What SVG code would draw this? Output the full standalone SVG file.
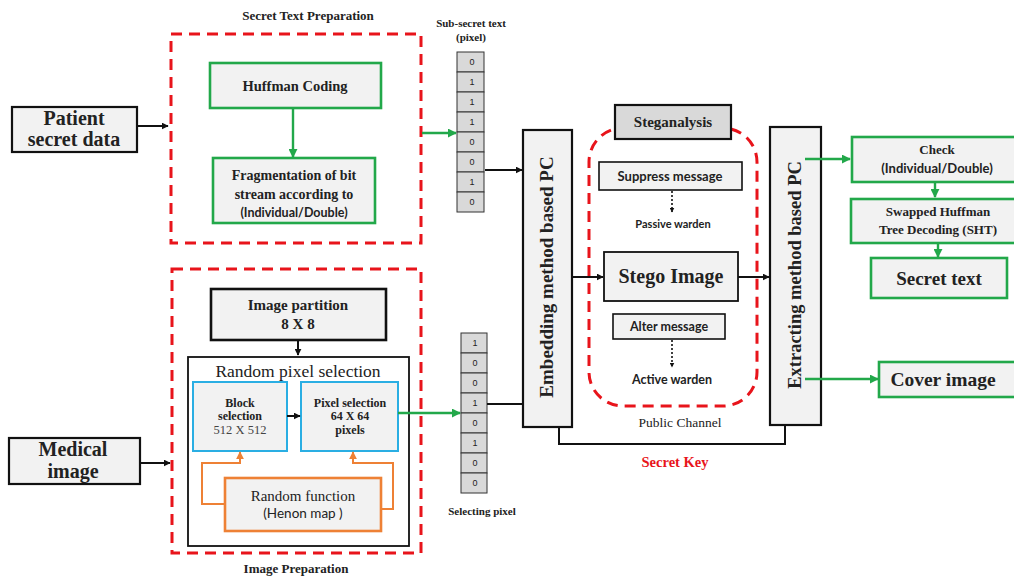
<svg xmlns="http://www.w3.org/2000/svg" width="1014" height="578" viewBox="0 0 1014 578">
  <style>
    .bx { fill: #f2f2f2; stroke: #111; stroke-width: 2.2; }
    .gbx { fill: #f2f2f2; stroke: #22a84a; stroke-width: 2.6; }
    .bbx { fill: #f2f2f2; stroke: #2aaee3; stroke-width: 2; }
    .obx { fill: #f2f2f2; stroke: #ee8135; stroke-width: 2.6; }
    .tbx { fill: #ffffff; stroke: #111; stroke-width: 1.8; }
    .cell { fill: #d9d9d9; stroke: #333; stroke-width: 1; }
    .dash { fill: none; stroke: #e8141b; stroke-width: 3; stroke-dasharray: 11 7; }
    .serb { font-family: "Liberation Serif", serif; font-weight: bold; fill: #222; text-anchor: middle; }
    .ser { font-family: "Liberation Serif", serif; fill: #222; text-anchor: middle; }
    .sanb { font-family: Lato, "Open Sans", sans-serif; font-weight: bold; fill: #222; text-anchor: middle; }
    .san { font-family: Lato, "Open Sans", sans-serif; fill: #222; text-anchor: middle; }
    .dig { font-family: "Liberation Sans", sans-serif; font-size: 9px; fill: #222; text-anchor: middle; }
    .red { fill: #e8141b; }
    .grey { fill: #444; }
    .bl { fill: none; stroke: #111; stroke-width: 2; }
    .gl { fill: none; stroke: #22a84a; stroke-width: 2.4; }
    .ol { fill: none; stroke: #ee8135; stroke-width: 2; }
    .dl { fill: none; stroke: #111; stroke-width: 1.6; stroke-dasharray: 2 2; }
  </style>
  <defs>
    <marker id="ab" viewBox="0 0 10 10" refX="9" refY="5" markerWidth="5" markerHeight="5" orient="auto" markerUnits="userSpaceOnUse">
      <path d="M0,0 L10,5 L0,10 z" fill="#111"/>
    </marker>
    <marker id="abk" viewBox="0 0 10 10" refX="9" refY="5" markerWidth="7" markerHeight="7" orient="auto" markerUnits="userSpaceOnUse">
      <path d="M0,0 L10,5 L0,10 z" fill="#111"/>
    </marker>
    <marker id="ag" viewBox="0 0 10 10" refX="9" refY="5" markerWidth="9" markerHeight="9" orient="auto" markerUnits="userSpaceOnUse">
      <path d="M0,0 L10,5 L0,10 z" fill="#22a84a"/>
    </marker>
    <marker id="ao" viewBox="0 0 10 10" refX="9" refY="5" markerWidth="8" markerHeight="8" orient="auto" markerUnits="userSpaceOnUse">
      <path d="M0,0 L10,5 L0,10 z" fill="#ee8135"/>
    </marker>
  </defs>

  <!-- group frames -->
  <g id="secret-text-preparation">
    <rect class="dash" x="171" y="34" width="250" height="209"/>
    <text class="serb" x="308" y="20" font-size="13">Secret Text Preparation</text>
  </g>
  <g id="image-preparation">
    <rect class="dash" x="172" y="269" width="249" height="284"/>
    <text class="serb" x="296" y="573" font-size="13">Image Preparation</text>
  </g>
  <g id="public-channel">
    <rect class="dash" x="589" y="128" width="168" height="278" rx="34" ry="34"/>
    <text class="ser" x="680" y="427" font-size="13.5">Public Channel</text>
  </g>

  <!-- inputs -->
  <g id="patient-secret-data">
    <rect class="bx" x="12" y="107" width="125" height="45"/>
    <text class="serb" x="74" y="125" font-size="20">Patient</text>
    <text class="serb" x="74" y="146" font-size="20">secret data</text>
  </g>
  <g id="medical-image">
    <rect class="bx" x="9" y="438" width="131" height="46"/>
    <text class="serb" x="73" y="456" font-size="20">Medical</text>
    <text class="serb" x="73" y="478" font-size="20">image</text>
  </g>

  <!-- secret text preparation -->
  <g id="huffman-coding">
    <rect class="gbx" x="210" y="63" width="171" height="45"/>
    <text class="serb" x="295" y="91" font-size="14.5">Huffman Coding</text>
  </g>
  <g id="fragmentation">
    <rect class="gbx" x="213" y="158" width="162" height="65"/>
    <text class="serb" x="294" y="180" font-size="14">Fragmentation of bit</text>
    <text class="serb" x="294" y="199" font-size="14">stream according to</text>
    <text class="sanb" x="294" y="217" font-size="12.5">(Individual/Double)</text>
  </g>

  <!-- bit columns -->
  <g id="sub-secret-text">
    <text class="serb" x="471" y="27" font-size="11">Sub-secret text</text>
    <text class="serb" x="471" y="41" font-size="11">(pixel)</text>
    <rect class="cell" x="457" y="52" width="27" height="20"/>
    <rect class="cell" x="457" y="72" width="27" height="20"/>
    <rect class="cell" x="457" y="92" width="27" height="20"/>
    <rect class="cell" x="457" y="112" width="27" height="20"/>
    <rect class="cell" x="457" y="132" width="27" height="20"/>
    <rect class="cell" x="457" y="152" width="27" height="20"/>
    <rect class="cell" x="457" y="172" width="27" height="20"/>
    <rect class="cell" x="457" y="192" width="27" height="20"/>
    <text class="dig" x="472" y="65">0</text>
    <text class="dig" x="472" y="85">1</text>
    <text class="dig" x="472" y="105">1</text>
    <text class="dig" x="472" y="125">1</text>
    <text class="dig" x="472" y="145">0</text>
    <text class="dig" x="472" y="165">0</text>
    <text class="dig" x="472" y="185">1</text>
    <text class="dig" x="472" y="205">0</text>
  </g>
  <g id="selecting-pixel">
    <rect class="cell" x="461" y="333" width="26" height="20"/>
    <rect class="cell" x="461" y="353" width="26" height="20"/>
    <rect class="cell" x="461" y="373" width="26" height="20"/>
    <rect class="cell" x="461" y="393" width="26" height="20"/>
    <rect class="cell" x="461" y="413" width="26" height="20"/>
    <rect class="cell" x="461" y="433" width="26" height="20"/>
    <rect class="cell" x="461" y="453" width="26" height="20"/>
    <rect class="cell" x="461" y="473" width="26" height="20"/>
    <text class="dig" x="475" y="346">1</text>
    <text class="dig" x="475" y="366">0</text>
    <text class="dig" x="475" y="386">0</text>
    <text class="dig" x="475" y="406">1</text>
    <text class="dig" x="475" y="426">0</text>
    <text class="dig" x="475" y="446">1</text>
    <text class="dig" x="475" y="466">0</text>
    <text class="dig" x="475" y="486">0</text>
    <text class="serb" x="482" y="515" font-size="11">Selecting pixel</text>
  </g>

  <!-- image preparation -->
  <g id="image-partition">
    <rect class="bx" x="211" y="289" width="175" height="51" style="stroke-width:2.6"/>
    <text class="serb" x="298" y="310" font-size="15">Image partition</text>
    <text class="serb" x="298" y="329" font-size="15">8 X 8</text>
  </g>
  <g id="random-pixel-selection">
    <rect class="tbx" x="188" y="357" width="221" height="189"/>
    <text class="ser" x="298" y="377" font-size="17.5">Random pixel selection</text>
  </g>
  <g id="block-selection">
    <rect class="bbx" x="193" y="382" width="94" height="69"/>
    <text class="serb" x="240" y="407" font-size="12">Block</text>
    <text class="serb" x="240" y="420" font-size="12">selection</text>
    <text class="ser grey" x="240" y="434" font-size="12.5">512 X 512</text>
  </g>
  <g id="pixel-selection">
    <rect class="bbx" x="301" y="382" width="97" height="69"/>
    <text class="serb" x="350" y="407" font-size="12">Pixel selection</text>
    <text class="serb" x="350" y="420" font-size="12">64 X 64</text>
    <text class="serb" x="350" y="434" font-size="12">pixels</text>
  </g>
  <g id="random-function">
    <rect class="obx" x="225" y="478" width="156" height="53"/>
    <text class="ser" x="303" y="501" font-size="15">Random function</text>
    <text class="san" x="303" y="518" font-size="13.5">(Henon map )</text>
  </g>

  <!-- embedding / channel / extracting -->
  <g id="embedding">
    <rect class="bx" x="523" y="130" width="49" height="297"/>
    <text class="serb" transform="translate(553,277) rotate(-90)" x="0" y="0" font-size="19">Embedding method based PC</text>
  </g>
  <g id="steganalysis">
    <rect x="615" y="105" width="116" height="34" fill="#d9d9d9" stroke="#111" stroke-width="2.2"/>
    <text class="serb" x="673" y="127" font-size="15">Steganalysis</text>
  </g>
  <g id="suppress-message">
    <rect class="bx" x="599" y="162" width="143" height="28" style="stroke-width:1.6"/>
    <text class="sanb" x="670" y="181" font-size="13">Suppress message</text>
    <text class="sanb" x="673" y="228" font-size="11">Passive warden</text>
  </g>
  <g id="stego-image">
    <rect class="bx" x="604" y="252" width="134" height="49" style="stroke-width:1.8"/>
    <text class="serb" x="671" y="283" font-size="20">Stego Image</text>
  </g>
  <g id="alter-message">
    <rect class="bx" x="613" y="314" width="112" height="25" style="stroke-width:1.6"/>
    <text class="sanb" x="669" y="331" font-size="12.5">Alter message</text>
    <text class="sanb" x="672" y="384" font-size="12.5">Active warden</text>
  </g>
  <g id="secret-key">
    <text class="serb red" x="675" y="467" font-size="14.5">Secret Key</text>
  </g>
  <g id="extracting">
    <rect class="bx" x="770" y="127" width="51" height="298"/>
    <text class="serb" transform="translate(801,275) rotate(-90)" x="0" y="0" font-size="18.5">Extracting method based PC</text>
  </g>

  <!-- outputs -->
  <g id="check">
    <rect class="gbx" x="852" y="137" width="166" height="45"/>
    <text class="serb" x="937" y="154" font-size="13">Check</text>
    <text class="sanb" x="937" y="173" font-size="13">(Individual/Double)</text>
  </g>
  <g id="swapped-huffman">
    <rect class="gbx" x="851" y="199" width="167" height="44"/>
    <text class="serb" x="938" y="216" font-size="13">Swapped Huffman</text>
    <text class="serb" x="938" y="234" font-size="13">Tree Decoding (SHT)</text>
  </g>
  <g id="secret-text">
    <rect class="gbx" x="871" y="258" width="136" height="40"/>
    <text class="serb" x="939" y="285" font-size="19">Secret text</text>
  </g>
  <g id="cover-image">
    <rect class="gbx" x="879" y="362" width="139" height="35"/>
    <text class="serb" x="943" y="386" font-size="19.5">Cover image</text>
  </g>

  <!-- connectors, drawn last so that they sit above the frames -->
  <g id="connectors">
    <line class="bl" x1="137" y1="126" x2="168" y2="126" marker-end="url(#abk)"/>
    <line class="bl" x1="140" y1="463" x2="170" y2="463" marker-end="url(#abk)"/>
    <line class="gl" x1="293" y1="108" x2="293" y2="157" marker-end="url(#ag)"/>
    <line class="gl" x1="422" y1="133" x2="456" y2="133" marker-end="url(#ag)"/>
    <line class="bl" x1="485" y1="170" x2="522" y2="170" marker-end="url(#abk)"/>
    <line class="bl" x1="298" y1="340" x2="298" y2="355" marker-end="url(#abk)"/>
    <line class="bl" x1="287" y1="416" x2="300" y2="416" marker-end="url(#abk)"/>
    <line class="gl" x1="398" y1="413" x2="460" y2="413" marker-end="url(#ag)"/>
    <line class="bl" x1="487" y1="404" x2="523" y2="404"/>
    <polyline class="ol" points="225,504 202,504 202,463 240,463 240,452" marker-end="url(#ao)"/>
    <polyline class="ol" points="381,509 393,509 393,463 353,463 353,452" marker-end="url(#ao)"/>
    <line class="bl" x1="572" y1="277" x2="603" y2="277" marker-end="url(#abk)"/>
    <line class="bl" x1="738" y1="277" x2="769" y2="277" marker-end="url(#abk)"/>
    <line class="dl" x1="672" y1="191" x2="672" y2="212" marker-end="url(#ab)"/>
    <line class="dl" x1="672" y1="340" x2="672" y2="367" marker-end="url(#ab)"/>
    <polyline class="bl" points="559,427 559,444 785,444 785,425"/>
    <line class="gl" x1="805" y1="159" x2="850" y2="159" marker-end="url(#ag)"/>
    <line class="gl" x1="935" y1="182" x2="935" y2="197" marker-end="url(#ag)"/>
    <line class="gl" x1="938" y1="243" x2="938" y2="257" marker-end="url(#ag)"/>
    <line class="gl" x1="805" y1="379" x2="878" y2="379" marker-end="url(#ag)"/>
  </g>
</svg>
